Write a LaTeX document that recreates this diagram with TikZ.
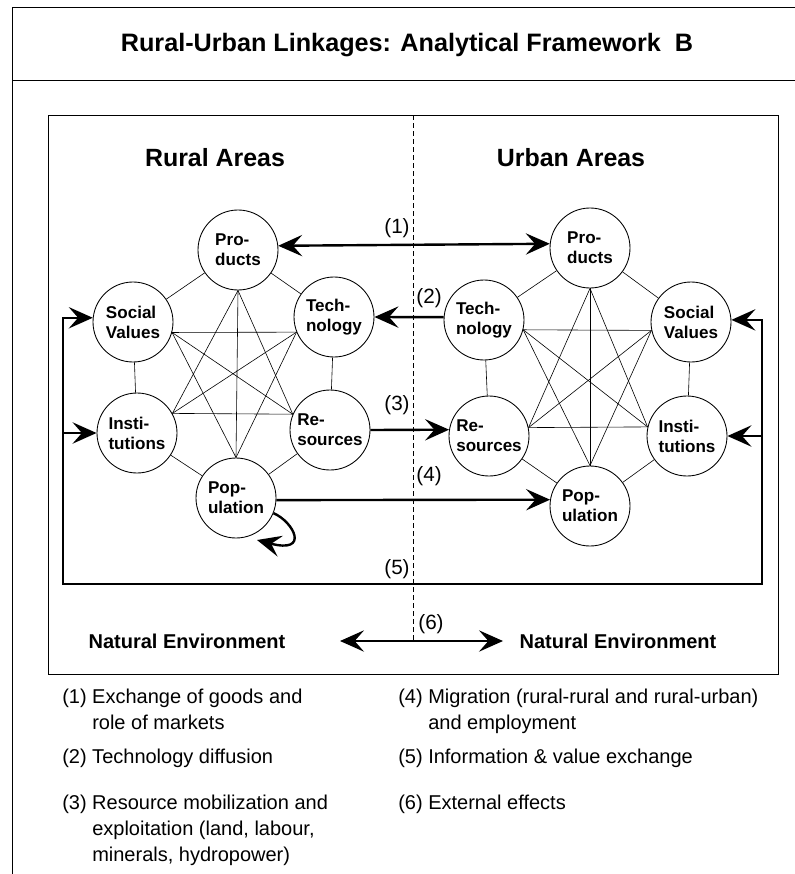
\documentclass[tikz,border=0pt]{standalone}
\usepackage{fontspec}
\setmainfont{Liberation Sans}
\usetikzlibrary{arrows.meta}
\begin{document}
\begin{tikzpicture}[x=0.75pt,y=-0.75pt,
  >={Stealth[length=18pt,width=16pt,inset=7pt]},
  cnode/.style={circle,draw,line width=0.65pt,minimum size=60pt,inner sep=0pt,align=left,
    font=\fontsize{12.8}{15}\selectfont\bfseries},
  link/.style={line width=0.45pt},
  flow/.style={line width=1.8pt},
  frame/.style={line width=0.7pt},
  numlab/.style={font=\fontsize{15.5}{18}\selectfont,inner sep=0pt},
  head/.style={font=\fontsize{18.7}{22}\selectfont\bfseries,inner sep=0pt},
  envlab/.style={font=\fontsize{15}{18}\selectfont\bfseries,inner sep=0pt},
  legend/.style={font=\fontsize{15}{19.5}\selectfont,inner sep=0pt,anchor=base west}
]
\useasboundingbox (0,0) rectangle (795,874);
% outer frame
\draw[frame] (795,7) -- (12,7) -- (12,874);
\draw[frame] (12,80) -- (795,80);
\node[font=\fontsize{18.9}{22}\selectfont\bfseries,inner sep=0pt] (title) at (407,45)
  {Rural-Urban Linkages: Analytical Framework\ \ B};
% inner box
\draw[frame] (48,115) rectangle (778,674);
\coordinate (dtop) at (413,115);
\coordinate (dbot) at (413,641);
\draw[line width=0.5pt,dash pattern=on 4pt off 2pt] (dtop) -- (dbot);
\node[head] (rural) at (215,158) {Rural Areas};
\node[head] (urban) at (571,158) {Urban Areas};
% left cluster
\node[cnode] (PL) at (238,250) {Pro-\\ducts};
\node[cnode] (SL) at (133,322) {Social\\Values};
\node[cnode] (TL) at (334,317) {Tech-\\nology};
\node[cnode] (IL) at (137,433) {Insti-\\tutions};
\node[cnode] (RL) at (330,430) {Re-\\sources};
\node[cnode] (OL) at (236,498) {Pop-\\ulation};
% right cluster
\node[cnode] (PR) at (590,248) {Pro-\\ducts};
\node[cnode] (TR) at (484,320) {Tech-\\nology};
\node[cnode] (SR) at (691,322) {Social\\Values};
\node[cnode] (RR) at (489,436) {Re-\\sources};
\node[cnode] (IR) at (687,436) {Insti-\\tutions};
\node[cnode] (OR) at (590,506) {Pop-\\ulation};
% left links
\draw[link] (PL) -- (TL);
\draw[link] (TL) -- (RL);
\draw[link] (RL) -- (OL);
\draw[link] (OL) -- (IL);
\draw[link] (IL) -- (SL);
\draw[link] (SL) -- (PL);
\draw[link] (SL.-15) -- (TL.202);
\draw[link] (SL.-15) -- (RL.157);
\draw[link] (SL.-15) -- (OL.north);
\draw[link] (PL.south) -- (IL.29);
\draw[link] (PL.south) -- (OL.north);
\draw[link] (PL.south) -- (RL.157);
\draw[link] (TL.202) -- (IL.29);
\draw[link] (TL.202) -- (OL.north);
\draw[link] (IL.29) -- (RL.157);
% right links
\draw[link] (PR) -- (SR);
\draw[link] (SR) -- (IR);
\draw[link] (IR) -- (OR);
\draw[link] (OR) -- (RR);
\draw[link] (RR) -- (TR);
\draw[link] (TR) -- (PR);
\draw[link] (TR.-14) -- (SR.192);
\draw[link] (TR.-14) -- (IR.167);
\draw[link] (TR.-14) -- (OR.north);
\draw[link] (PR.south) -- (RR.12);
\draw[link] (PR.south) -- (OR.north);
\draw[link] (PR.south) -- (IR.167);
\draw[link] (SR.192) -- (RR.12);
\draw[link] (SR.192) -- (OR.north);
\draw[link] (RR.12) -- (IR.167);
% flows
\draw[flow,<->] (PL.6) -- (PR.174);
\draw[flow,->] (TR.176) -- (TL.east);
\draw[flow,->] (RL.east) -- (RR.171);
\draw[flow,->] (OL.-3) -- (OR.171);
\coordinate (bl) at (63,584);
\coordinate (br) at (762,584);
\draw[flow,<->,line join=miter] (SL.174) -| (bl) -- (br) |- (SR.3);
\draw[flow,->] (bl |- IL.west) -- (IL.west);
\draw[flow,->] (br |- IR.east) -- (IR.east);
\coordinate (loopend) at (257,540);
\draw[flow,->] (OL.-22) .. controls (294,522) and (310,554) .. (loopend);
% labels
\node[numlab] (l1) at (397,228) {(1)};
\node[numlab] (l2) at (429,298) {(2)};
\node[numlab] (l3) at (397,405) {(3)};
\node[numlab] (l4) at (429,476) {(4)};
\node[numlab] (l5) at (397,569) {(5)};
\node[numlab] (l6) at (431,624) {(6)};
% natural environment
\node[envlab] (nel) at (187,641) {Natural Environment};
\node[envlab] (ner) at (618,641) {Natural Environment};
\coordinate (e6l) at (340,641);
\coordinate (e6r) at (503,641);
\draw[line width=1.5pt,<->] (e6l) -- (e6r);
% legend
\node[legend] (g1) at (62,703) {\begin{tabular}[t]{@{}l@{ }l@{}}(1)&Exchange of goods and\\&role of markets\end{tabular}};
\node[legend] (g2) at (62,763) {\begin{tabular}[t]{@{}l@{ }l@{}}(2)&Technology diffusion\end{tabular}};
\node[legend] (g3) at (62,809) {\begin{tabular}[t]{@{}l@{ }l@{}}(3)&Resource mobilization and\\&exploitation (land, labour,\\&minerals, hydropower)\end{tabular}};
\node[legend] (g4) at (398,703) {\begin{tabular}[t]{@{}l@{ }l@{}}(4)&Migration (rural-rural and rural-urban)\\&and employment\end{tabular}};
\node[legend] (g5) at (398,763) {\begin{tabular}[t]{@{}l@{ }l@{}}(5)&Information \& value exchange\end{tabular}};
\node[legend] (g6) at (398,809) {\begin{tabular}[t]{@{}l@{ }l@{}}(6)&External effects\end{tabular}};
\end{tikzpicture}
\end{document}
